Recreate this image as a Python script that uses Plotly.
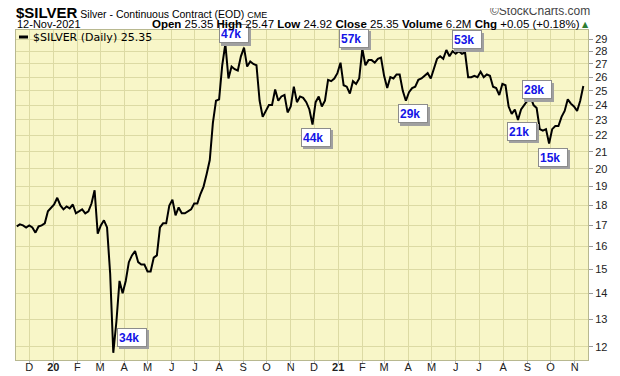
import plotly.graph_objects as go
import pandas as pd
import numpy as np

# ---- data (closing prices, sampled every 4 calendar days) ----
start_date = "2019-11-15"
closes = [
    16.95, 17.05, 17.0, 16.9, 17.0, 16.9, 16.65, 16.95, 17.0, 17.1,
    17.7, 17.9, 18.05, 18.4, 18.0, 17.8, 17.95, 17.85, 18.05, 17.6,
    17.7, 17.8, 17.6, 17.7, 18.1, 18.8, 16.6, 17.0, 17.25, 16.9,
    14.8, 11.8, 12.9, 14.5, 14.0, 14.5, 15.3, 15.6, 15.8, 15.3,
    15.2, 15.2, 14.9, 14.9, 15.5, 15.6, 16.9, 17.1, 17.1, 18.0,
    18.3, 17.5, 17.9, 17.6, 17.6, 17.7, 17.8, 18.1, 18.1, 18.6,
    19.0, 19.7, 20.5, 22.8, 24.3, 24.4, 26.9, 28.6, 25.9, 26.8,
    26.6, 26.5, 27.6, 28.3, 26.8, 27.2, 27.0, 26.9, 24.3, 23.2,
    23.6, 24.0, 24.0, 25.1, 24.3, 24.6, 24.7, 23.5, 23.9, 25.3,
    24.2, 24.6, 24.5, 24.2, 23.7, 22.7, 24.2, 24.6, 23.9, 24.3,
    25.8, 25.7, 25.9, 26.3, 27.1, 25.4, 25.3, 24.8, 25.7, 25.5,
    25.9, 28.2, 26.9, 27.3, 27.3, 27.1, 27.4, 27.5, 26.1, 25.2,
    26.0, 25.9, 26.2, 26.2, 25.0, 24.3, 24.9, 25.2, 25.3, 25.8,
    25.9, 26.1, 26.3, 25.9, 26.6, 27.4, 27.6, 27.4, 28.1, 27.6,
    28.0, 27.8, 28.0, 27.8, 27.9, 26.0, 26.0, 26.1, 26.0, 26.4,
    26.0, 26.2, 26.1, 25.3, 25.2, 24.7, 25.5, 25.4, 23.9, 23.4,
    23.7, 23.0, 23.7, 24.0, 24.3, 24.6, 24.0, 23.8, 22.4, 22.3,
    22.4, 21.5, 22.4, 22.6, 22.6, 23.2, 23.6, 24.4, 24.1, 23.9,
    23.6, 24.3, 25.35,
]
dates = pd.date_range(start=start_date, periods=len(closes), freq="4D")

month_ticks = pd.date_range("2019-12-01", "2021-11-01", freq="MS")
month_labels = ["D", "<b>20</b>", "F", "M", "A", "M", "J", "J", "A", "S", "O", "N",
                "D", "<b>21</b>", "F", "M", "A", "M", "J", "J", "A", "S", "O", "N"]
price_ticks = [12, 13, 14, 15, 16, 17, 18, 19, 20, 21, 22, 23, 24, 25, 26, 27, 28, 29]

volume_labels = ["47k", "57k", "53k", "44k", "29k", "28k", "21k", "15k", "34k"]
# label box centres in window pixels (placement only)
label_px = [(234, 34), (354, 38.5), (467, 40), (316, 137.5), (413, 114),
            (537, 90), (522, 131.5), (553, 157), (132, 337.5)]

# ---- layout geometry (page body has an 8px margin) ----
W, H = 620, 376
OFF = 8
PL, PR, PT, PB = 16, 588, 30, 360          # plot area in window pixels
L, R = PL - OFF, W - (PR - OFF)
T, B = PT - OFF, H - (PB - OFF)
PW, PH = PR - PL, PB - PT


def px(x):
    return (x - PL) / PW


def py(y):
    return (PB - y) / PH


BG = "#F8F6C8"
GRID = "#DCDAA4"
FONT = "Liberation Sans, Arial, sans-serif"

fig = go.Figure()
fig.add_trace(go.Scatter(x=dates, y=closes, mode="lines",
                         line=dict(color="black", width=2),
                         showlegend=False, hoverinfo="x+y"))

annotations = []
# volume boxes with shadow
for txt, (cx, cy) in zip(volume_labels, label_px):
    annotations.append(dict(
        xref="paper", yref="paper", x=px(cx + 2), y=py(cy + 2),
        text="&nbsp;", showarrow=False, width=26, height=15,
        font=dict(family=FONT, size=12, color="#A0A0A0"),
        bgcolor="#A0A0A0", bordercolor="#A0A0A0", borderwidth=1, borderpad=1,
        xanchor="center", yanchor="middle"))
    annotations.append(dict(
        xref="paper", yref="paper", x=px(cx), y=py(cy),
        text="<b>%s</b>" % txt, showarrow=False, width=26, height=15,
        align="left",
        font=dict(family=FONT, size=12, color="#1414E6"),
        bgcolor="white", bordercolor="#8C8C8C", borderwidth=1, borderpad=1,
        xanchor="center", yanchor="middle"))

# header line 1
annotations.append(dict(
    xref="paper", yref="paper", x=px(14), y=py(12), xanchor="left", yanchor="middle",
    showarrow=False,
    text="<b><span style='font-size:15px'>$SILVER</span></b> "
         "<span style='font-size:10.5px'>Silver - Continuous Contract (EOD)</span> "
         "<span style='font-size:9px'>CME</span>",
    font=dict(family=FONT, size=10.5, color="black")))
annotations.append(dict(
    xref="paper", yref="paper", x=px(592), y=py(11), xanchor="right", yanchor="middle",
    showarrow=False, text="©StockCharts.com",
    font=dict(family=FONT, size=12, color="#444444")))
# header line 2
annotations.append(dict(
    xref="paper", yref="paper", x=px(15), y=py(24), xanchor="left", yanchor="middle",
    showarrow=False, text="12-Nov-2021",
    font=dict(family=FONT, size=11, color="black")))
annotations.append(dict(
    xref="paper", yref="paper", x=px(582), y=py(24), xanchor="right", yanchor="middle",
    showarrow=False,
    text="<b>Open</b> 25.35 <b>High</b> 25.47 <b>Low</b> 24.92 <b>Close</b> 25.35 "
         "<b>Volume</b> 6.2M <b>Chg</b> +0.05 (+0.18%)",
    font=dict(family=FONT, size=11.5, color="black")))
annotations.append(dict(
    xref="paper", yref="paper", x=px(591), y=py(24), xanchor="right", yanchor="middle",
    showarrow=False, text="▲",
    font=dict(family="DejaVu Sans", size=8, color="#2E7D32")))
# in-chart legend
annotations.append(dict(
    xref="paper", yref="paper", x=px(31), y=py(37), xanchor="left", yanchor="middle",
    showarrow=False, text="$SILVER (Daily) 25.35",
    font=dict(family="DejaVu Sans", size=11, color="black")))

shapes = [dict(type="line", xref="paper", yref="paper",
               x0=px(19), x1=px(28), y0=py(37), y1=py(37),
               line=dict(color="black", width=3))]

fig.update_layout(
    width=W, height=H,
    margin=dict(l=L, r=R, t=T, b=B, autoexpand=False),
    paper_bgcolor="white", plot_bgcolor=BG,
    annotations=annotations, shapes=shapes,
    font=dict(family=FONT, size=11, color="#222222"),
    xaxis=dict(
        type="date", automargin=False,
        range=["2019-11-14", "2021-11-18"],
        tickvals=list(month_ticks), ticktext=month_labels,
        showgrid=True, gridcolor=GRID, gridwidth=1,
        ticks="outside", ticklen=3, tickcolor="#BBBBBB",
        ticklabelstandoff=-6,
        showline=True, linecolor="#B8B890", mirror=True,
        tickfont=dict(family=FONT, size=11, color="#222222"),
        zeroline=False, fixedrange=True,
    ),
    yaxis=dict(
        type="log", side="right", automargin=False,
        range=[np.log10(11.56), np.log10(29.76)],
        tickvals=price_ticks, ticktext=[str(v) for v in price_ticks],
        showgrid=True, gridcolor=GRID, gridwidth=1,
        ticks="outside", ticklen=4, tickcolor="#999999",
        showline=True, linecolor="#B8B890", mirror=True,
        tickfont=dict(family=FONT, size=11, color="#222222"),
        zeroline=False, fixedrange=True,
    ),
)

fig.write_html("out.html")
